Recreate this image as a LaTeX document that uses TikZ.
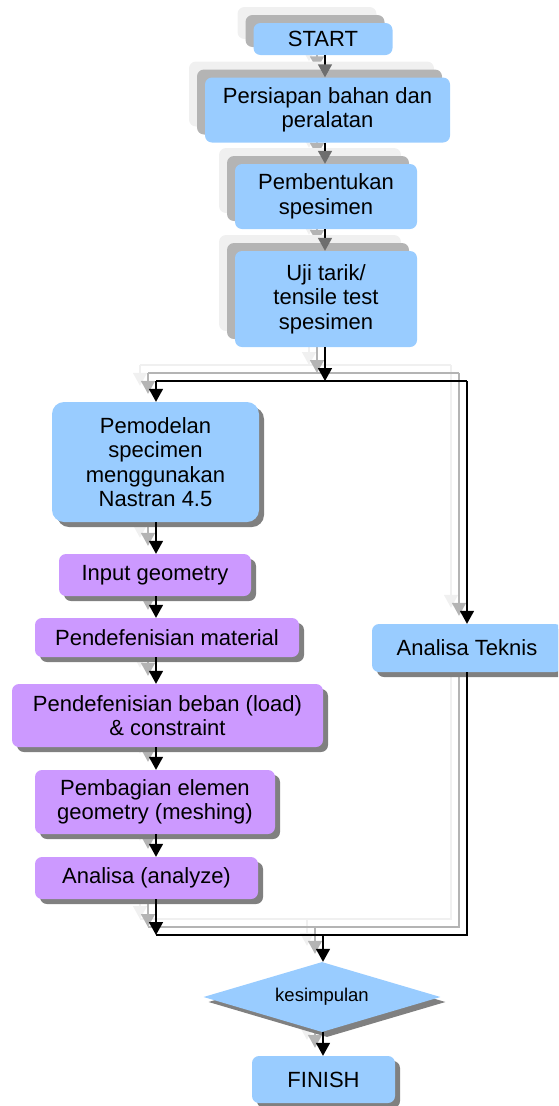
\documentclass[tikz,border=0pt]{standalone}
\usepackage{fontspec}
\setmainfont{Liberation Sans}
\usetikzlibrary{shapes.geometric,shadows,arrows.meta,backgrounds}
\definecolor{boxblue}{HTML}{99CCFF}
\definecolor{boxpurple}{HTML}{CC99FF}
\definecolor{shgray}{HTML}{808080}
\definecolor{midsh}{HTML}{B4B4B4}
\definecolor{lightsh}{HTML}{F0F0F0}
\definecolor{arrgray}{HTML}{6E6E6E}
\newcommand\mainsz{\fontsize{22}{24.5}\selectfont}
\newcommand\kessz{\fontsize{18.5}{21}\selectfont}
\tikzset{
  box/.style={rectangle, rounded corners=7pt, draw=none, align=center, font=\mainsz, inner sep=2pt},
  bluebox/.style={box, fill=boxblue},
  purplebox/.style={box, fill=boxpurple},
  dropsh/.style={drop shadow={shadow xshift=5pt, shadow yshift=-5pt, fill=shgray, opacity=1}},
  stacksh/.style={copy shadow={shadow xshift=-16pt, shadow yshift=16pt, fill=lightsh, draw=none},
                  copy shadow={shadow xshift=-8pt, shadow yshift=8pt, fill=midsh, draw=none}},
  conn/.style={line width=1.5pt},
  arr/.style={conn, -{Triangle[width=14pt,length=13pt]}},
  toparr/.style={conn, -{Triangle[width=14pt,length=13pt,color=#1]}},
}
\newcommand\drawconnectors[1]{%
  \draw[toparr=#1] (start.south -| sp) -- (prep.north -| sp);
  \draw[toparr=#1] (prep.south -| sp) -- (pemb.north -| sp);
  \draw[toparr=#1] (pemb.south -| sp) -- (uji.north -| sp);
  \draw[arr] (uji.south -| sp) -- (sp);
  \draw[conn] (jl) -- (jr);
  \draw[arr] (jl) -- (pemo.north -| jl);
  \draw[arr] (jr) -- (tek.north -| jr);
  \draw[arr] (pemo.south -| jl) -- (inp.north -| jl);
  \draw[arr] (inp.south -| jl) -- (mat.north -| jl);
  \draw[arr] (mat.south -| jl) -- (beb.north -| jl);
  \draw[arr] (beb.south -| jl) -- (bagi.north -| jl);
  \draw[arr] (bagi.south -| jl) -- (anl.north -| jl);
  \draw[arr] (anl.south -| bl) -- (bl);
  \draw[conn] (bl) -- (br) -- (tek.south -| br);
  \draw[arr] (bm) -- (kes.north -| bm);
  \draw[arr] (kes.south -| bm) -- (fin.north -| bm);
}
\begin{document}
\begin{tikzpicture}[x=1pt,y=-1pt]
\useasboundingbox (0,0) rectangle (558,1106);
\clip (0,0) rectangle (558,1106);
% junction points
\coordinate (sp) at (325,381);
\coordinate (jl) at (156,381);
\coordinate (jr) at (467,381);
\coordinate (bl) at (156,935);
\coordinate (br) at (467,935);
\coordinate (bm) at (323,935);
% nodes
\node[bluebox, stacksh, minimum width=139pt, minimum height=32pt] (start) at (323,39) {START};
\node[bluebox, stacksh, minimum width=245pt, minimum height=65pt] (prep) at (327.5,110) {Persiapan bahan dan\\peralatan};
\node[bluebox, stacksh, minimum width=182pt, minimum height=65pt] (pemb) at (326,196.5) {Pembentukan\\spesimen};
\node[bluebox, stacksh, minimum width=182pt, minimum height=96pt] (uji) at (326,299) {Uji tarik/\\tensile test\\spesimen};
\node[bluebox, dropsh, rounded corners=12pt, minimum width=207pt, minimum height=120pt] (pemo) at (155.5,462) {Pemodelan\\specimen\\menggunakan\\Nastran 4.5};
\node[purplebox, dropsh, minimum width=192pt, minimum height=42pt] (inp) at (155,575) {Input geometry};
\node[purplebox, dropsh, minimum width=264pt, minimum height=39pt] (mat) at (167,637.5) {Pendefenisian material};
\node[purplebox, dropsh, minimum width=311pt, minimum height=63pt] (beb) at (167.5,715.5) {Pendefenisian beban (load)\\\& constraint};
\node[purplebox, dropsh, minimum width=240pt, minimum height=64pt] (bagi) at (155,802) {Pembagian elemen\\geometry (meshing)};
\node[purplebox, dropsh, minimum width=223pt, minimum height=42pt] (anl) at (146.5,878) {Analisa (analyze)};
\node[bluebox, dropsh, minimum width=190pt, minimum height=48pt] (tek) at (467,648) {Analisa Teknis};
\node[diamond, fill=boxblue, dropsh, aspect=3.4, minimum width=237pt, minimum height=70pt, inner sep=0pt, font=\kessz] (kes) at (322,997) {kesimpulan};
\node[bluebox, dropsh, minimum width=143pt, minimum height=47pt] (fin) at (323.5,1079.5) {FINISH};
% connector shadows
\begin{pgfonlayer}{background}
  \begin{scope}[transform canvas={xshift=-16pt,yshift=16pt}, color=lightsh]
    \drawconnectors{lightsh}
  \end{scope}
  \begin{scope}[transform canvas={xshift=-8pt,yshift=8pt}, color=midsh]
    \drawconnectors{midsh}
  \end{scope}
\end{pgfonlayer}
% connectors
\drawconnectors{arrgray}
\end{tikzpicture}
\end{document}
